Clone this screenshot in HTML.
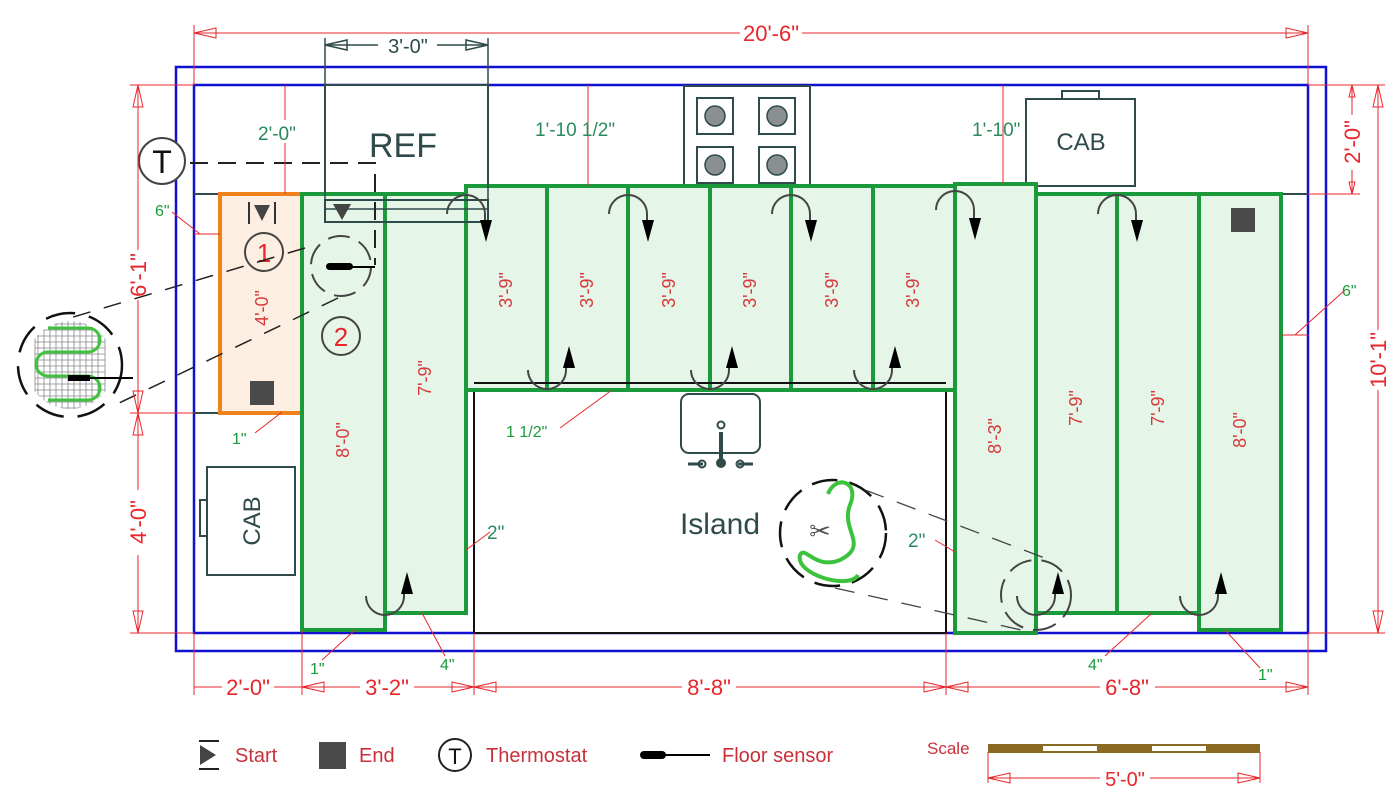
<!DOCTYPE html>
<html><head><meta charset="utf-8"><style>
html,body{margin:0;padding:0;background:#fff;}
svg{display:block;font-family:"Liberation Sans",sans-serif;}
.dim{stroke:#e8262b;stroke-width:1;fill:none}
.rt{fill:#e8262b;font-size:22px}
.gt{fill:#2a8a5e;font-size:19px}
.pl{fill:#d8383a;font-size:18px}
.pan{fill:#e5f5e8;stroke:#1a9a3a;stroke-width:4}
.ut{fill:none;stroke:#444;stroke-width:2}
</style></head><body>
<svg width="1400" height="808" viewBox="0 0 1400 808" xmlns="http://www.w3.org/2000/svg">
<rect x="176" y="67" width="1150" height="584" fill="none" stroke="#1010d0" stroke-width="2.5"/>
<rect x="194" y="85" width="1114" height="548" fill="none" stroke="#1010d0" stroke-width="2.5"/>
<line x1="194" y1="194" x2="1308" y2="194" stroke="#2f4a4a" stroke-width="2"/>
<line x1="194" y1="413" x2="302" y2="413" stroke="#2f4a4a" stroke-width="2"/>
<rect x="325" y="85" width="163" height="109" fill="#fff" stroke="#2f4a4a" stroke-width="2"/>
<text x="403" y="157" font-size="34" fill="#2f4a4a" text-anchor="middle">REF</text>
<rect x="684" y="86" width="126" height="107" fill="#fff" stroke="#2f4a4a" stroke-width="2"/>
<g stroke="#2f4a4a" stroke-width="2" fill="none">
<rect x="697" y="98" width="36" height="36"/><rect x="759" y="98" width="36" height="36"/>
<rect x="697" y="147" width="36" height="36"/><rect x="759" y="147" width="36" height="36"/>
</g>
<g fill="#8a9090" stroke="#2f4a4a" stroke-width="1.5">
<circle cx="715" cy="116" r="10"/><circle cx="777" cy="116" r="10"/><circle cx="715" cy="165" r="10"/><circle cx="777" cy="165" r="10"/>
</g>
<rect x="1062" y="91" width="37" height="8" fill="#fff" stroke="#2f4a4a" stroke-width="2"/>
<rect x="1026" y="99" width="109" height="87" fill="#fff" stroke="#2f4a4a" stroke-width="2"/>
<text x="1081" y="150" font-size="24" fill="#2f4a4a" text-anchor="middle">CAB</text>
<rect x="200" y="500" width="7" height="36" fill="#fff" stroke="#2f4a4a" stroke-width="2"/>
<rect x="207" y="467" width="88" height="108" fill="#fff" stroke="#2f4a4a" stroke-width="2"/>
<text transform="translate(260,521) rotate(-90)" font-size="24" fill="#2f4a4a" text-anchor="middle">CAB</text>
<rect x="220" y="194" width="82" height="219" fill="#fdeee2" stroke="#f0821e" stroke-width="4"/>
<rect x="474" y="383" width="472" height="250" fill="#fff" stroke="#111" stroke-width="2"/>
<rect class="pan" x="302" y="194" width="83" height="436"/>
<rect class="pan" x="385" y="194" width="81" height="419"/>
<rect class="pan" x="466" y="186" width="81" height="204"/>
<rect class="pan" x="547" y="186" width="81" height="204"/>
<rect class="pan" x="628" y="186" width="82" height="204"/>
<rect class="pan" x="710" y="186" width="81" height="204"/>
<rect class="pan" x="791" y="186" width="82" height="204"/>
<rect class="pan" x="873" y="186" width="82" height="204"/>
<rect class="pan" x="955" y="184" width="81" height="449"/>
<rect class="pan" x="1036" y="194" width="81" height="419"/>
<rect class="pan" x="1117" y="194" width="82" height="419"/>
<rect class="pan" x="1199" y="194" width="82" height="436"/>
<line x1="474" y1="383" x2="946" y2="383" stroke="#111" stroke-width="2"/>
<g class="pl" text-anchor="middle">
<text transform="translate(349,440) rotate(-90)">8'-0"</text>
<text transform="translate(431,378) rotate(-90)">7'-9"</text>
<text transform="translate(512,290) rotate(-90)">3'-9"</text>
<text transform="translate(593,290) rotate(-90)">3'-9"</text>
<text transform="translate(675,290) rotate(-90)">3'-9"</text>
<text transform="translate(756,290) rotate(-90)">3'-9"</text>
<text transform="translate(838,290) rotate(-90)">3'-9"</text>
<text transform="translate(919,290) rotate(-90)">3'-9"</text>
<text transform="translate(1001,436) rotate(-90)">8'-3"</text>
<text transform="translate(1082,408) rotate(-90)">7'-9"</text>
<text transform="translate(1164,408) rotate(-90)">7'-9"</text>
<text transform="translate(1246,430) rotate(-90)">8'-0"</text>
<text transform="translate(268,308) rotate(-90)">4'-0"</text>
</g>
<polygon points="254,205 270,205 262,221" fill="#444"/>
<line x1="249" y1="202" x2="249" y2="224" stroke="#333" stroke-width="2"/>
<line x1="275" y1="202" x2="275" y2="224" stroke="#333" stroke-width="2"/>
<rect x="250" y="381" width="24" height="24" fill="#4a4a4a"/>
<rect x="1231" y="208" width="24" height="24" fill="#4a4a4a"/>
<g stroke="#2f4a4a" stroke-width="1.5" fill="none">
<line x1="325" y1="38" x2="325" y2="222"/><line x1="488" y1="38" x2="488" y2="222"/>
<line x1="325" y1="45" x2="378" y2="45"/><line x1="437" y1="45" x2="488" y2="45"/>
<path d="M325 45 l22 -5 v10z M488 45 l-22 -5 v10z"/>
</g>
<rect x="325" y="200" width="163" height="22" fill="none" stroke="#2f4a4a" stroke-width="2"/>
<line x1="325" y1="209" x2="488" y2="209" stroke="#2f4a4a" stroke-width="1.5"/>
<polygon points="333,204 351,204 342,220" fill="#444"/>
<path d="M190 163 H375 V265" fill="none" stroke="#222" stroke-width="2" stroke-dasharray="18,10"/>
<circle cx="162" cy="161" r="23" fill="#fff" stroke="#444" stroke-width="2"/>
<text x="162" y="173" font-size="32" fill="#111" text-anchor="middle">T</text>
<circle cx="341" cy="266" r="30" fill="none" stroke="#444" stroke-width="2" stroke-dasharray="22,10"/>
<rect x="326" y="263" width="27" height="7" rx="3.5" fill="#000"/>
<line x1="350" y1="267" x2="375" y2="267" stroke="#000" stroke-width="2"/>
<circle cx="264" cy="252" r="19" fill="none" stroke="#444" stroke-width="2"/>
<text x="264" y="262" font-size="26" fill="#e8262b" text-anchor="middle">1</text>
<circle cx="341" cy="336" r="19" fill="none" stroke="#444" stroke-width="2"/>
<text x="341" y="346" font-size="26" fill="#e8262b" text-anchor="middle">2</text>
<g stroke="#222" stroke-width="1.5" stroke-dasharray="18,14" fill="none">
<line x1="305" y1="248" x2="70" y2="318"/>
<line x1="338" y1="298" x2="115" y2="405"/>
</g>
<g>
<clipPath id="c1"><circle cx="70" cy="365" r="44"/></clipPath>
<g clip-path="url(#c1)" stroke="#888" stroke-width="0.8">
<rect x="35" y="318" width="70" height="94" fill="#fff"/>
<path d="M35 324H105M35 330H105M35 336H105M35 342H105M35 348H105M35 354H105M35 360H105M35 366H105M35 372H105M35 378H105M35 384H105M35 390H105M35 396H105M35 402H105M35 408H105M38 318V412M44 318V412M50 318V412M56 318V412M62 318V412M68 318V412M74 318V412M80 318V412M86 318V412M92 318V412M98 318V412"/>
</g>
<path d="M48 338 H88 a12 12 0 0 1 0 24 H48 a12 12 0 0 0 0 24 H88 a12 12 0 0 1 0 24 H48" fill="none" stroke="#3cc23c" stroke-width="3" transform="translate(0,-10)"/>
<circle cx="70" cy="365" r="52" fill="none" stroke="#111" stroke-width="2.5" stroke-dasharray="30,14"/>
<rect x="68" y="375" width="22" height="6" fill="#000"/>
<line x1="90" y1="378" x2="133" y2="378" stroke="#000" stroke-width="2"/>
</g>
<rect x="681" y="394" width="79" height="59" rx="8" fill="#fff" stroke="#2f4a4a" stroke-width="2"/>
<circle cx="721" cy="425" r="3.5" fill="none" stroke="#2f4a4a" stroke-width="2"/>
<line x1="721" y1="432" x2="721" y2="460" stroke="#2f4a4a" stroke-width="4"/>
<circle cx="721" cy="463" r="5" fill="#2f4a4a"/>
<path d="M688 464H703M738 464H753" stroke="#2f4a4a" stroke-width="3"/>
<circle cx="702" cy="464" r="3.5" fill="none" stroke="#2f4a4a" stroke-width="2"/>
<circle cx="740" cy="464" r="3.5" fill="none" stroke="#2f4a4a" stroke-width="2"/>
<text x="720" y="534" font-size="30" fill="#2f4a4a" text-anchor="middle">Island</text>
<circle cx="833" cy="533" r="53" fill="#fff" stroke="#111" stroke-width="2.5" stroke-dasharray="26,12"/>
<path d="M828 494 C835 475 860 480 850 505 C840 530 870 545 840 560 C815 570 805 545 800 555 C795 575 850 590 858 575" fill="none" stroke="#3cc23c" stroke-width="4"/>
<text x="820" y="540" font-size="26" fill="#555" text-anchor="middle">✂</text>
<g stroke="#444" stroke-width="1.3" stroke-dasharray="20,14" fill="none">
<line x1="865" y1="490" x2="1050" y2="560"/>
<line x1="835" y1="588" x2="1030" y2="632"/>
</g>
<circle cx="1036" cy="595" r="35" fill="none" stroke="#444" stroke-width="2" stroke-dasharray="24,10"/>
<g class="ut">
<path d="M447 214 A19 19 0 0 1 485 214 V222"/>
<path d="M609 214 A19 19 0 0 1 647 214 V222"/>
<path d="M772 214 A19 19 0 0 1 810 214 V222"/>
<path d="M936 210 A19 19 0 0 1 974 210 V222"/>
<path d="M1098 214 A19 19 0 0 1 1136 214 V222"/>
<path d="M528 370 A19 19 0 0 0 566 370 V366"/>
<path d="M691 370 A19 19 0 0 0 729 370 V366"/>
<path d="M854 370 A19 19 0 0 0 892 370 V366"/>
<path d="M366 596 A19 19 0 0 0 404 596 V592"/>
<path d="M1017 596 A19 19 0 0 0 1055 596 V592"/>
<path d="M1180 596 A19 19 0 0 0 1218 596 V592"/>
</g>
<g fill="#000">
<polygon points="480,220 492,220 486,242"/>
<polygon points="642,220 654,220 648,242"/>
<polygon points="805,220 817,220 811,242"/>
<polygon points="969,218 981,218 975,240"/>
<polygon points="1131,220 1143,220 1137,242"/>
<polygon points="563,368 575,368 569,346"/>
<polygon points="726,368 738,368 732,346"/>
<polygon points="889,368 901,368 895,346"/>
<polygon points="401,594 413,594 407,572"/>
<polygon points="1052,594 1064,594 1058,572"/>
<polygon points="1215,594 1227,594 1221,572"/>
</g>
<g class="dim">
<line x1="194" y1="25" x2="194" y2="85"/><line x1="1308" y1="25" x2="1308" y2="85"/>
<line x1="194" y1="33" x2="740" y2="33"/><line x1="802" y1="33" x2="1308" y2="33"/>
<line x1="130" y1="85" x2="194" y2="85"/><line x1="130" y1="413" x2="194" y2="413"/><line x1="130" y1="633" x2="194" y2="633"/>
<line x1="138" y1="85" x2="138" y2="250"/><line x1="138" y1="300" x2="138" y2="413"/>
<line x1="138" y1="413" x2="138" y2="490"/><line x1="138" y1="555" x2="138" y2="633"/>
<line x1="1308" y1="85" x2="1385" y2="85"/><line x1="1308" y1="194" x2="1360" y2="194"/><line x1="1308" y1="633" x2="1385" y2="633"/>
<line x1="1352" y1="85" x2="1352" y2="115"/><line x1="1352" y1="170" x2="1352" y2="194"/>
<line x1="1378" y1="85" x2="1378" y2="330"/><line x1="1378" y1="390" x2="1378" y2="633"/>
<line x1="194" y1="633" x2="194" y2="695"/><line x1="302" y1="630" x2="302" y2="695"/><line x1="474" y1="633" x2="474" y2="695"/><line x1="946" y1="633" x2="946" y2="695"/><line x1="1308" y1="633" x2="1308" y2="695"/>
<line x1="194" y1="687" x2="222" y2="687"/><line x1="274" y1="687" x2="302" y2="687"/>
<line x1="302" y1="687" x2="360" y2="687"/><line x1="414" y1="687" x2="474" y2="687"/>
<line x1="474" y1="687" x2="682" y2="687"/><line x1="736" y1="687" x2="946" y2="687"/>
<line x1="946" y1="687" x2="1100" y2="687"/><line x1="1155" y1="687" x2="1308" y2="687"/>
<line x1="285" y1="85" x2="285" y2="120"/><line x1="285" y1="143" x2="285" y2="194"/>
<line x1="588" y1="85" x2="588" y2="186"/>
<line x1="1003" y1="85" x2="1003" y2="184"/>
<line x1="194" y1="234" x2="220" y2="234"/><line x1="200" y1="234" x2="172" y2="212"/>
<line x1="1281" y1="335" x2="1308" y2="335"/><line x1="1295" y1="335" x2="1345" y2="290"/>
<line x1="282" y1="412" x2="255" y2="433"/>
<line x1="612" y1="390" x2="560" y2="428"/>
<line x1="466" y1="550" x2="490" y2="532"/>
<line x1="955" y1="552" x2="935" y2="540"/>
<line x1="355" y1="630" x2="322" y2="660"/>
<line x1="422" y1="613" x2="445" y2="656"/>
<line x1="1152" y1="613" x2="1105" y2="656"/>
<line x1="1225" y1="630" x2="1260" y2="668"/>
<line x1="988" y1="752" x2="988" y2="783"/><line x1="1260" y1="752" x2="1260" y2="783"/>
<line x1="988" y1="778" x2="1100" y2="778"/><line x1="1150" y1="778" x2="1260" y2="778"/>
</g>
<g fill="none" stroke="#e8262b" stroke-width="1">
<path d="M194 33 l22 -5 v10z M1308 33 l-22 -5 v10z"/>
<path d="M138 85 l-5 22 h10z M138 413 l-5 -22 h10z M138 413 l-5 22 h10z M138 633 l-5 -22 h10z"/>
<path d="M1378 85 l-5 22 h10z M1378 633 l-5 -22 h10z M1352 85 l-3 12 h6z M1352 194 l-3 -12 h6z"/>
<path d="M302 687 l22 -5 v10z M474 687 l-22 -5 v10z M474 687 l22 -5 v10z M946 687 l-22 -5 v10z M946 687 l22 -5 v10z M1308 687 l-22 -5 v10z"/>
<path d="M988 778 l22 -5 v10z M1260 778 l-22 -5 v10z"/>
</g>
<g class="rt" text-anchor="middle">
<text x="771" y="41">20'-6"</text>
<text x="408" y="53" fill="#2f4a4a" font-size="20">3'-0"</text>
<text x="248" y="695">2'-0"</text>
<text x="387" y="695">3'-2"</text>
<text x="709" y="695">8'-8"</text>
<text x="1127" y="695">6'-8"</text>
<text transform="translate(146,275) rotate(-90)">6'-1"</text>
<text transform="translate(146,522) rotate(-90)">4'-0"</text>
<text transform="translate(1360,142) rotate(-90)">2'-0"</text>
<text transform="translate(1386,360) rotate(-90)">10'-1"</text>
</g>
<g class="gt">
<text x="258" y="140">2'-0"</text>
<text x="535" y="136">1'-10 1/2"</text>
<text x="972" y="136">1'-10"</text>
<text x="155" y="216" font-size="16" fill="#1a9a3a">6"</text>
<text x="1342" y="296" font-size="16" fill="#1a9a3a">6"</text>
<text x="232" y="444" font-size="16" fill="#1a9a3a">1"</text>
<text x="506" y="437" font-size="16" fill="#1a9a3a">1 1/2"</text>
<text x="487" y="539">2"</text>
<text x="908" y="547">2"</text>
<text x="310" y="674" font-size="16" fill="#1a9a3a">1"</text>
<text x="440" y="670" font-size="16" fill="#1a9a3a">4"</text>
<text x="1088" y="670" font-size="16" fill="#1a9a3a">4"</text>
<text x="1258" y="680" font-size="16" fill="#1a9a3a">1"</text>
</g>
<polygon points="200,745 216,755 200,765" fill="#444"/>
<line x1="199" y1="741" x2="219" y2="741" stroke="#222" stroke-width="2"/>
<line x1="199" y1="769" x2="219" y2="769" stroke="#222" stroke-width="2"/>
<text x="235" y="762" font-size="20" fill="#c8303a">Start</text>
<rect x="319" y="742" width="27" height="27" fill="#4a4a4a"/>
<text x="359" y="762" font-size="20" fill="#c8303a">End</text>
<circle cx="455" cy="755" r="16" fill="none" stroke="#222" stroke-width="2"/>
<text x="455" y="764" font-size="22" fill="#111" text-anchor="middle">T</text>
<text x="486" y="762" font-size="20" fill="#c8303a">Thermostat</text>
<rect x="640" y="751" width="26" height="8" rx="4" fill="#000"/>
<line x1="664" y1="755" x2="710" y2="755" stroke="#000" stroke-width="2"/>
<text x="722" y="762" font-size="20" fill="#c8303a">Floor sensor</text>
<text x="927" y="754" font-size="17" fill="#c8303a">Scale</text>
<rect x="988" y="744" width="272" height="9" fill="#8a6a22"/>
<rect x="1043" y="746" width="54" height="5" fill="#fff"/>
<rect x="1152" y="746" width="54" height="5" fill="#fff"/>
<text x="1125" y="786" font-size="20" fill="#e8262b" text-anchor="middle">5'-0"</text>
</svg>
</body></html>
